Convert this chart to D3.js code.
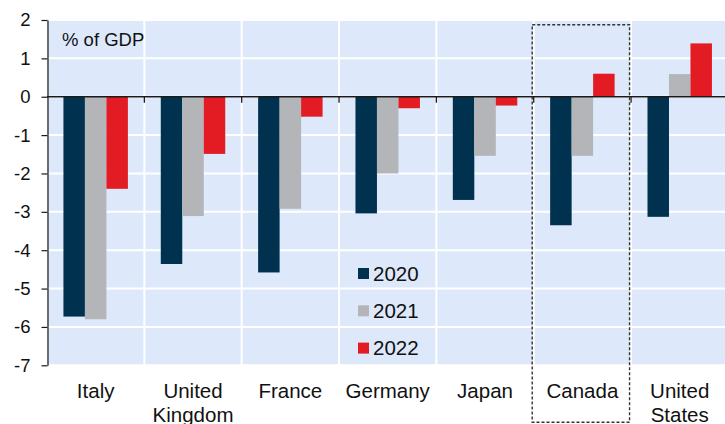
<!DOCTYPE html>
<html>
<head>
<meta charset="utf-8">
<script src="https://cdn.jsdelivr.net/npm/d3@7"></script>
<style>
  html, body { margin: 0; padding: 0; background: #fff; }
  svg { display: block; font-family: Arial, "Liberation Sans", sans-serif; }
</style>
</head>
<body>
<svg id="chart" width="725" height="424"></svg>
<script>
// G7 general government budget balance, % of GDP
const countries = ["Italy", "United\nKingdom", "France", "Germany", "Japan", "Canada", "United\nStates"];
const years = ["2020", "2021", "2022"];
const values2020 = [-5.73, -4.36, -4.58, -3.04, -2.69, -3.35, -3.13];
const values2021 = [-5.8, -3.11, -2.92, -2.0, -1.54, -1.54, 0.59];
const values2022 = [-2.4, -1.49, -0.52, -0.3, -0.23, 0.6, 1.39];
const yTicks = [2, 1, 0, -1, -2, -3, -4, -5, -6, -7];
const highlighted = "Canada";
const unitLabel = "% of GDP";

const seriesValues = [values2020, values2021, values2022];
const colors = ["#00324f", "#b4b5b8", "#e31c24"];

const svg = d3.select("#chart");
const plotLeft = 47, plotRight = 728.4, plotTop = 20, plotBottom = 365.3;

const x = d3.scaleBand().domain(countries).range([plotLeft, plotRight]).padding(0);
const xInner = d3.scaleBand().domain(years)
  .range([0, x.bandwidth()]).paddingInner(0).paddingOuter(0.765);
const y = d3.scaleLinear().domain([-7, 2]).range([plotBottom, plotTop]);

// plot background
svg.append("rect")
  .attr("x", plotLeft).attr("y", plotTop)
  .attr("width", plotRight - plotLeft).attr("height", plotBottom - plotTop)
  .attr("fill", "#dde9fb");

// white grid
svg.append("g").selectAll("line").data(yTicks).join("line")
  .attr("x1", plotLeft).attr("x2", plotRight)
  .attr("y1", d => y(d)).attr("y2", d => y(d))
  .attr("stroke", "#fff").attr("stroke-width", 2);
svg.append("g").selectAll("line").data(countries.slice(1)).join("line")
  .attr("x1", d => x(d)).attr("x2", d => x(d))
  .attr("y1", plotTop).attr("y2", plotBottom)
  .attr("stroke", "#fff").attr("stroke-width", 2);

// bars
const rows = countries.map((c, i) => ({ c, vals: seriesValues.map(s => s[i]) }));
const groups = svg.append("g").selectAll("g").data(rows).join("g")
  .attr("transform", d => `translate(${x(d.c)},0)`);
groups.selectAll("rect").data(d => d.vals.map((v, k) => ({ v, k }))).join("rect")
  .attr("x", d => xInner(years[d.k]))
  .attr("width", xInner.bandwidth())
  .attr("y", d => y(Math.max(0, d.v)))
  .attr("height", d => Math.abs(y(d.v) - y(0)))
  .attr("fill", d => colors[d.k]);

// zero line and category ticks
svg.append("line")
  .attr("x1", plotLeft).attr("x2", plotRight)
  .attr("y1", y(0)).attr("y2", y(0))
  .attr("stroke", "#1a1a1a").attr("stroke-width", 1.6);
svg.append("g").selectAll("line").data(countries.slice(1)).join("line")
  .attr("x1", d => x(d)).attr("x2", d => x(d))
  .attr("y1", y(0)).attr("y2", y(0) + 6)
  .attr("stroke", "#1a1a1a").attr("stroke-width", 1.3);

// y axis
const yAxis = svg.append("g")
  .attr("transform", `translate(${plotLeft + 0.5},0)`)
  .call(d3.axisLeft(y).tickValues(yTicks).tickFormat(d => String(d))
    .tickSize(6).tickSizeOuter(0).tickPadding(11));
yAxis.select(".domain").attr("stroke", "#1a1a1a").attr("stroke-width", 1.2);
yAxis.selectAll(".tick line").attr("stroke", "#1a1a1a").attr("stroke-width", 1.2);
yAxis.selectAll(".tick text")
  .attr("font-size", 18.5).attr("fill", "#111")
  .attr("font-family", "Arial, 'Liberation Sans', sans-serif");

// category labels
const catLabels = svg.append("g").selectAll("text").data(countries).join("text")
  .attr("x", d => x(d) + x.bandwidth() / 2)
  .attr("y", 397.5)
  .attr("text-anchor", "middle")
  .attr("font-size", 20.5).attr("fill", "#111");
catLabels.selectAll("tspan").data(d => d.split("\n")).join("tspan")
  .attr("x", function () { return d3.select(this.parentNode).attr("x"); })
  .attr("dy", (d, i) => i === 0 ? 0 : 24)
  .text(d => d);

// unit label
svg.append("text")
  .attr("x", 62).attr("y", 46)
  .attr("font-size", 18.5).attr("fill", "#111")
  .text(unitLabel);

// highlight box
svg.append("rect")
  .attr("x", x(highlighted) - 1.5).attr("y", 24.7)
  .attr("width", x.bandwidth()).attr("height", 422.3 - 24.7)
  .attr("fill", "none").attr("stroke", "#333")
  .attr("stroke-width", 1.4).attr("stroke-dasharray", "3,2");

// legend
const legend = svg.append("g").selectAll("g").data(years).join("g")
  .attr("transform", (d, i) => `translate(358,${268 + i * 37.3})`);
legend.append("rect").attr("width", 11).attr("height", 11)
  .attr("fill", (d, i) => colors[i]);
legend.append("text").attr("x", 15).attr("y", 12.5)
  .attr("font-size", 20.5).attr("fill", "#111")
  .text(d => d);
</script>
</body>
</html>
